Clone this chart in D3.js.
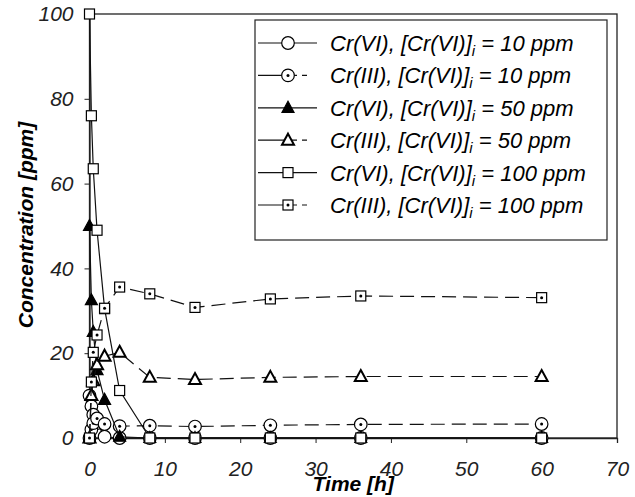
<!DOCTYPE html>
<html>
<head>
<meta charset="utf-8">
<script src="https://cdn.jsdelivr.net/npm/d3@7"></script>
<style>
  body { margin: 0; background: #fff; }
  text { font-family: "Liberation Sans", Arial, sans-serif; }
  .axis-title { font-style: italic; font-weight: bold; font-size: 21px; }
  .legend-text { font-style: italic; font-size: 22px; }
</style>
</head>
<body>
<div id="chart"></div>
<script>
// time of sampling [h]
const times = [0, 0.25, 0.5, 1, 2, 4, 8, 14, 24, 36, 60];

// concentrations [ppm]
const crVI_10   = [10, 7.5, 5.5, 3.5, 0.3, 0, 0, 0, 0, 0, 0];
const crIII_10  = [0, 2, 3.5, 4.6, 3.3, 2.8, 2.9, 2.7, 3.0, 3.2, 3.3];
const crVI_50   = [50, 32.5, 25, 16, 9, 0.3, 0, 0, 0, 0, 0];
const crIII_50  = [0, 10, 13.5, 17.3, 19.3, 20.2, 14.3, 13.8, 14.3, 14.5, 14.5];
const crVI_100  = [100, 76, 63.5, 49, 30.5, 11.2, 0, 0, 0, 0, 0];
const crIII_100 = [0, 13.2, 20.2, 24.3, 30.6, 35.6, 34.0, 30.8, 32.8, 33.5, 33.1];

const seriesValues = [crVI_10, crIII_10, crVI_50, crIII_50, crVI_100, crIII_100];
const seriesSpecies = ["Cr(VI)", "Cr(III)", "Cr(VI)", "Cr(III)", "Cr(VI)", "Cr(III)"];
const seriesInitial = ["10", "10", "50", "50", "100", "100"];

const xTicks = [0, 10, 20, 30, 40, 50, 60, 70];
const yTicks = [0, 20, 40, 60, 80, 100];

// marker look per series
const markerStyle = [
    {shape: "circle", fill: "#fff", dot: false, dashed: false},
    {shape: "circle", fill: "#fff", dot: true, dashed: true},
    {shape: "triangle", fill: "#000", dot: false, dashed: false},
    {shape: "triangle", fill: "#fff", dot: false, dashed: true},
    {shape: "square", fill: "#fff", dot: false, dashed: false},
    {shape: "square", fill: "#fff", dot: true, dashed: true}
];

const margin = {top: 14, right: 18, bottom: 59, left: 89.5};
const width = 635 - margin.left - margin.right;
const height = 497 - margin.top - margin.bottom;

const svg = d3.select("#chart")
    .append("svg")
    .attr("width", 635)
    .attr("height", 497)
    .append("g")
    .attr("transform", `translate(${margin.left},${margin.top})`);

const x = d3.scaleLinear().domain([0, 70]).range([0, width]);
const y = d3.scaleLinear().domain([0, 100]).range([height, 0]);

// frame
svg.append("rect")
    .attr("width", width)
    .attr("height", height)
    .attr("fill", "none")
    .attr("stroke", "#222")
    .attr("stroke-width", 1.3);

// axes
const xAxis = svg.append("g")
    .attr("transform", `translate(0,${height})`)
    .call(d3.axisBottom(x).tickValues(xTicks).tickSize(5).tickPadding(18));
const yAxis = svg.append("g")
    .call(d3.axisLeft(y).tickValues(yTicks).tickSize(5).tickPadding(11));

[xAxis, yAxis].forEach(a => {
    a.attr("font-size", null).attr("font-family", null);
    a.select(".domain").attr("stroke", "#222").attr("stroke-width", 1.3);
    a.selectAll(".tick line").attr("stroke", "#222");
    a.selectAll(".tick text")
        .attr("fill", "#222")
        .style("font-family", "'Liberation Sans', Arial, sans-serif")
        .style("font-style", "italic")
        .style("font-size", "21px");
});

svg.append("text")
    .attr("class", "axis-title")
    .attr("text-anchor", "middle")
    .attr("x", width / 2)
    .attr("y", height + 53)
    .text("Time [h]");

svg.append("text")
    .attr("class", "axis-title")
    .attr("text-anchor", "middle")
    .attr("transform", "rotate(-90)")
    .attr("x", -211)
    .attr("y", -57)
    .text("Concentration [ppm]");

function drawMarker(g, st) {
    if (st.shape === "circle") {
        g.append("circle").attr("r", 6.3)
            .attr("fill", st.fill).attr("stroke", "#000").attr("stroke-width", 1.2);
    } else if (st.shape === "square") {
        g.append("rect").attr("x", -5).attr("y", -5).attr("width", 10).attr("height", 10)
            .attr("fill", st.fill).attr("stroke", "#000").attr("stroke-width", 1.2);
    } else {
        g.append("path").attr("d", "M0,-6.5L6,4.5L-6,4.5Z")
            .attr("fill", st.fill).attr("stroke", "#000")
            .attr("stroke-width", st.fill === "#fff" ? 2 : 1.2);
    }
    if (st.dot) {
        g.append("circle").attr("r", 1.5).attr("fill", "#000");
    }
}

const line = d3.line()
    .x(d => x(d[0]))
    .y(d => y(d[1]));

seriesValues.forEach((vals, i) => {
    const pts = times.map((t, j) => [t, vals[j]]);
    const st = markerStyle[i];
    svg.append("path")
        .datum(pts)
        .attr("fill", "none")
        .attr("stroke", "#111")
        .attr("stroke-width", 1.2)
        .attr("stroke-dasharray", st.dashed ? "14,7" : null)
        .attr("d", line);

    svg.selectAll(".pt" + i)
        .data(pts)
        .enter().append("g")
        .attr("class", "pt" + i)
        .attr("transform", d => `translate(${x(d[0])},${y(d[1])})`)
        .each(function() { drawMarker(d3.select(this), st); });
});

// Legend
const lg = svg.append("g")
    .attr("transform", `translate(${255 - margin.left},${20 - margin.top})`);

lg.append("rect")
    .attr("width", 352)
    .attr("height", 220)
    .attr("fill", "#fff")
    .attr("stroke", "#222")
    .attr("stroke-width", 1.2);

const items = lg.selectAll(".legend")
    .data(seriesValues.map((v, i) => i))
    .enter().append("g")
    .attr("class", "legend")
    .attr("transform", i => `translate(0,${23 + i * 32.4})`);

items.append("line")
    .attr("x1", 3)
    .attr("x2", 62)
    .attr("stroke", "#111")
    .attr("stroke-width", 1.2)
    .attr("stroke-dasharray", i => markerStyle[i].dashed ? "26,8,5,5,5,50" : null);

items.append("g")
    .attr("transform", "translate(33,0)")
    .each(function(i) { drawMarker(d3.select(this), markerStyle[i]); });

const lt = items.append("text")
    .attr("class", "legend-text")
    .attr("x", 75)
    .attr("y", 8);
lt.append("tspan").text(i => `${seriesSpecies[i]}, [Cr(VI)]`);
lt.append("tspan").attr("dy", 5).style("font-size", "15px").text("i");
lt.append("tspan").attr("dy", -5).text(i => ` = ${seriesInitial[i]} ppm`);
</script>
</body>
</html>
